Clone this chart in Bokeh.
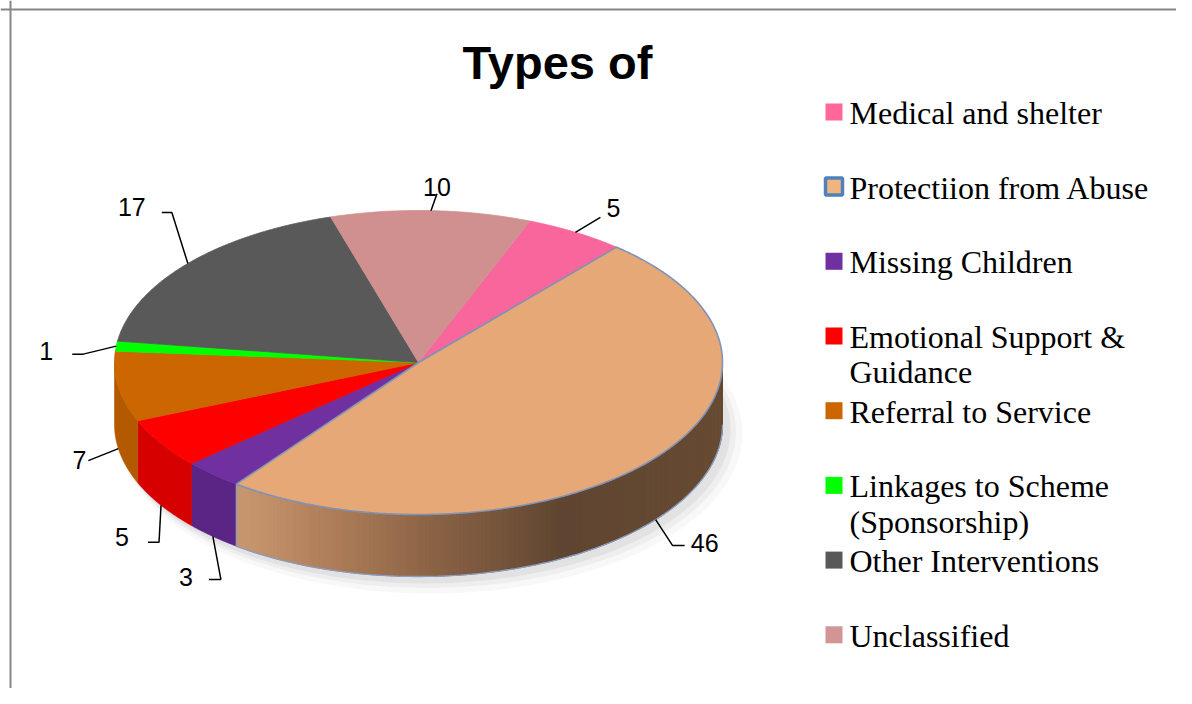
import numpy as np
from bokeh.plotting import figure
from bokeh.models import Range1d, Span
from bokeh.core.properties import value
from bokeh.embed import file_html
from bokeh.resources import INLINE

# ---------------- data ----------------
title_text = "Types of"
categories = [
    "Medical and shelter",
    "Protectiion from Abuse",
    "Missing Children",
    "Emotional Support &\nGuidance",
    "Referral to Service",
    "Linkages to Scheme\n(Sponsorship)",
    "Other Interventions",
    "Unclassified",
]
counts = [5, 46, 3, 5, 7, 1, 17, 10]

# ---------------- styles ----------------
top_colors = ["#f9669b", "#e6a877", "#7030a0", "#ff0000", "#cc6600", "#00ff00", "#595959", "#d09090"]
side_colors = ["#d4507f", "#b07850", "#5a2584", "#d60000", "#b35a00", "#00cc00", "#474747", "#b07575"]
legend_fill = ["#ff6699", "#f0b47e", "#7030a0", "#ff0000", "#cc6600", "#00ff00", "#595959", "#d29494"]
legend_line = ["#ff6699", "#4f81bd", "#7030a0", "#ff0000", "#cc6600", "#00ff00", "#595959", "#d29494"]
legend_lw = [0, 3.5, 0, 0, 0, 0, 0, 0]
gradient_stops_x = [245, 330, 430, 500, 560, 730]
gradient_stops_rgb = [(200, 150, 110), (175, 126, 90), (140, 100, 70), (118, 85, 60), (96, 70, 50), (104, 76, 52)]
gradient_slice = 1

# ---------------- layout ----------------
W, H = 1176, 688
CX, CY, RX, RY, DEPTH = 418.0, 362.0, 304.0, 152.0, 62.0
START_DEG = 21.5
leader_elbow = [(25, -15), (17, 26), (8, 43), (-2, 37), (-30, 12), (-33, 8), (-16, -51), (6, -17)]
leader_tail = [0, 12, -12, -11, 0, -11, -10, 0]
label_offset = [(38, -24), (49, 23), (-27, 41), (-39, 32), (-39, 11), (-70, 5), (-56, -56), (6, -24)]
LEG_X, LEG_Y0, LEG_STEP = 833.5, 111.4, 74.7

p = figure(width=W, height=H, x_range=Range1d(0, W), y_range=Range1d(H, 0),
           output_backend="svg", toolbar_location=None, min_border=0,
           x_axis_location=None, y_axis_location=None, title=None)
p.grid.visible = False
p.outline_line_color = None
p.background_fill_color = "white"
p.border_fill_color = "white"

p.add_layout(Span(location=10, dimension="height", line_color="#868686", line_width=2))
p.add_layout(Span(location=9, dimension="width", line_color="#868686", line_width=2))


def rim(theta, dz=0.0):
    t = np.radians(theta)
    return CX + RX * np.sin(t), CY - RY * np.cos(t) + dz


n = len(counts)
total = float(sum(counts))
bounds = START_DEG + 360.0 * np.concatenate([[0], np.cumsum(counts)]) / total

# shadow
for ox, oy, grow, a in [(12, 9, 16, 0.05), (9, 7, 9, 0.07), (6, 5, 4, 0.09)]:
    p.ellipse(x=[CX + ox], y=[CY + DEPTH + oy], width=[2 * RX + grow], height=[2 * RY + grow],
              fill_color="#707070", fill_alpha=a, line_color=None)

# sides
sx, sy, sc = [], [], []
for i in range(n):
    a0, a1 = max(bounds[i], 90.0), min(bounds[i + 1], 270.0)
    if a1 <= a0:
        continue
    if i == gradient_slice:
        steps = np.linspace(a0, a1, 180)
        for t0, t1 in zip(steps[:-1], steps[1:]):
            tt = np.array([t0, min(t1 + 0.3, a1)])
            tx, ty = rim(tt)
            bx, by = rim(tt[::-1], DEPTH)
            sx.append(list(np.concatenate([tx, bx])))
            sy.append(list(np.concatenate([ty, by])))
            xm = rim((t0 + t1) / 2)[0]
            rgb = [int(np.interp(xm, gradient_stops_x, [c[k] for c in gradient_stops_rgb])) for k in range(3)]
            sc.append("#%02x%02x%02x" % tuple(rgb))
    else:
        tt = np.linspace(a0, a1, 60)
        tx, ty = rim(tt)
        bx, by = rim(tt[::-1], DEPTH)
        sx.append(list(np.concatenate([tx, bx])))
        sy.append(list(np.concatenate([ty, by])))
        sc.append(side_colors[i])
p.patches(xs=sx, ys=sy, fill_color=sc, line_color=sc, line_width=0.6)

# outline of the big slice side
ga0, ga1 = max(bounds[gradient_slice], 90.0), min(bounds[gradient_slice + 1], 270.0)
tt = np.linspace(ga0, ga1, 120)
bx, by = rim(tt, DEPTH)
p.line(x=list(bx), y=list(by), line_color="#8a9cc0", line_width=1.3)
lx0, ly0 = rim(ga1)
p.line(x=[lx0, lx0], y=[ly0, ly0 + DEPTH], line_color="#8a9cc0", line_width=1.3)

# tops
order = [i for i in range(n) if i != gradient_slice] + [gradient_slice]
for i in order:
    tt = np.linspace(bounds[i], bounds[i + 1], max(3, int((bounds[i + 1] - bounds[i]) * 2)))
    tx, ty = rim(tt)
    xs = [CX] + list(tx)
    ys = [CY] + list(ty)
    if i == gradient_slice:
        p.patch(x=xs, y=ys, fill_color=top_colors[i], line_color="#7f93b8", line_width=1.6)
    else:
        p.patch(x=xs, y=ys, fill_color=top_colors[i], line_color=top_colors[i], line_width=0.8)

# data labels with leader lines
lead_xs, lead_ys, lab_x, lab_y, lab_t = [], [], [], [], []
for i in range(n):
    mid = ((bounds[i] + bounds[i + 1]) / 2.0) % 360
    front = np.cos(np.radians(mid)) < 0
    ax, ay = rim(mid, DEPTH if front else 0.0)
    ex, ey = ax + leader_elbow[i][0], ay + leader_elbow[i][1]
    xs, ys = [ax, ex], [ay, ey]
    if leader_tail[i]:
        xs.append(ex + leader_tail[i])
        ys.append(ey)
    lead_xs.append(xs)
    lead_ys.append(ys)
    lab_x.append(ax + label_offset[i][0])
    lab_y.append(ay + label_offset[i][1])
    lab_t.append(str(counts[i]))
p.multi_line(xs=lead_xs, ys=lead_ys, line_color="black", line_width=1.5)
p.text(x=lab_x, y=lab_y, text=lab_t, text_align="center", text_baseline="middle",
       text_font=value("Liberation Sans"), text_font_size="25px", text_color="black")

# title
p.text(x=[557], y=[62], text=[title_text], text_align="center", text_baseline="middle",
       text_font=value("Liberation Sans"), text_font_style="bold", text_font_size="47px",
       text_color="black")

# legend
leg_y = [LEG_Y0 + LEG_STEP * i for i in range(n)]
p.rect(x=[LEG_X] * n, y=leg_y, width=17, height=17, fill_color=legend_fill,
       line_color=legend_line, line_width=legend_lw)
p.text(x=[849] * n, y=[yy - 17 for yy in leg_y], text=categories, text_align="left",
       text_baseline="top", text_font=value("Liberation Serif"), text_font_size="32px",
       text_line_height=0.98, text_color="black")

open("out.html", "w").write(file_html(p, INLINE))
